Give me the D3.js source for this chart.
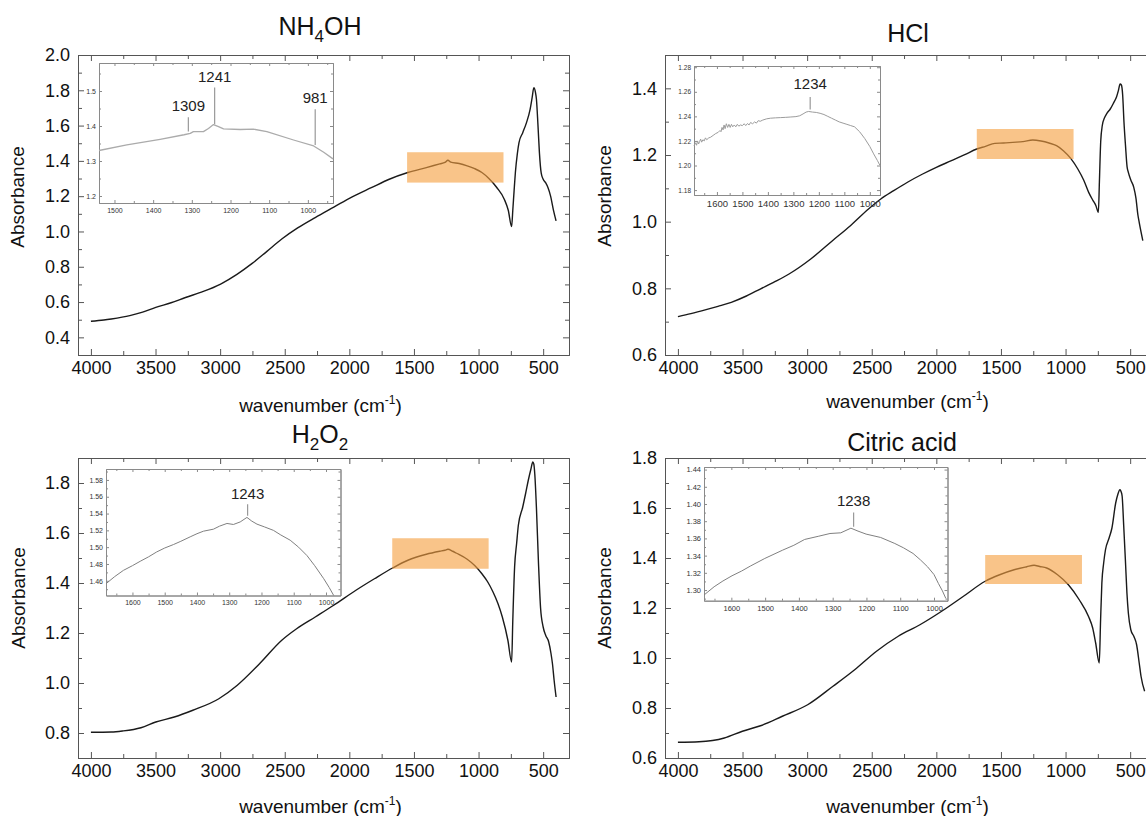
<!DOCTYPE html>
<html><head><meta charset="utf-8">
<script src="https://cdn.jsdelivr.net/npm/d3@7"></script>
<style>
body{margin:0;background:#fff;}
svg{display:block;font-family:"Liberation Sans",Arial,sans-serif;}
</style></head><body>
<svg id="c" width="1146" height="816"></svg>
<script>
// ---------------- DATA ----------------
const xTickLabels = [4000,3500,3000,2500,2000,1500,1000,500];
const xMinorTicks = [3750,3250,2750,2250,1750,1250,750];

// main spectra [wavenumber, absorbance]
const nh4ohMain = [[4000,0.491],[3900,0.498],[3842,0.504],[3699,0.523],[3600,0.543],[3498,0.570],[3380,0.596],[3268,0.626],[3130,0.660],[2996,0.702],[2870,0.757],[2752,0.819],[2640,0.886],[2523,0.957],[2400,1.020],[2264,1.079],[2120,1.138],[1978,1.196],[1830,1.248],[1691,1.296],[1547,1.334],[1404,1.362],[1300,1.383],[1260,1.391],[1237,1.404],[1215,1.393],[1150,1.385],[1088,1.372],[1030,1.356],[974,1.334],[920,1.300],[859,1.249],[801,1.183],[770,1.12],[744,1.028],[735,1.12],[725,1.23],[715,1.334],[700,1.44],[687,1.504],[658,1.560],[629,1.617],[601,1.692],[585,1.76],[572,1.815],[560,1.79],[552,1.749],[540,1.60],[529,1.447],[515,1.33],[500,1.296],[480,1.275],[463,1.249],[443,1.202],[420,1.12],[400,1.060]];
const hclMain = [[4000,0.715],[3900,0.724],[3782,0.736],[3690,0.746],[3587,0.758],[3470,0.777],[3363,0.798],[3250,0.820],[3140,0.843],[2972,0.888],[2804,0.943],[2665,0.988],[2525,1.038],[2430,1.068],[2330,1.093],[2220,1.119],[2106,1.143],[2000,1.163],[1883,1.183],[1780,1.201],[1687,1.218],[1620,1.226],[1547,1.235],[1480,1.236],[1408,1.238],[1330,1.240],[1254,1.245],[1190,1.242],[1128,1.236],[1070,1.228],[1017,1.213],[960,1.190],[905,1.158],[860,1.125],[821,1.088],[790,1.065],[765,1.048],[746,1.028],[738,1.12],[728,1.24],[715,1.29],[700,1.31],[680,1.325],[654,1.338],[630,1.355],[605,1.375],[590,1.395],[578,1.413],[568,1.41],[558,1.38],[548,1.30],[536,1.228],[524,1.165],[514,1.148],[495,1.125],[472,1.103],[455,1.07],[440,1.02],[430,0.998],[402,0.943]];
const h2o2Main = [[4000,0.803],[3842,0.804],[3756,0.808],[3613,0.821],[3498,0.844],[3355,0.864],[3211,0.891],[3010,0.937],[2867,0.991],[2695,1.077],[2523,1.171],[2408,1.217],[2264,1.264],[2121,1.311],[1949,1.371],[1806,1.417],[1662,1.461],[1547,1.491],[1404,1.515],[1300,1.527],[1260,1.531],[1237,1.535],[1200,1.527],[1174,1.520],[1088,1.495],[1030,1.470],[974,1.437],[930,1.405],[888,1.364],[850,1.318],[816,1.264],[773,1.171],[744,1.084],[735,1.25],[721,1.464],[705,1.56],[692,1.631],[658,1.704],[635,1.76],[615,1.811],[595,1.855],[580,1.884],[572,1.875],[565,1.837],[552,1.70],[537,1.491],[520,1.30],[500,1.224],[480,1.19],[457,1.164],[440,1.12],[428,1.077],[415,1.01],[400,0.944]];
const citricMain = [[4000,0.663],[3837,0.665],[3641,0.680],[3501,0.707],[3361,0.729],[3192,0.767],[2996,0.813],[2800,0.887],[2632,0.953],[2463,1.027],[2295,1.087],[2127,1.133],[1959,1.187],[1790,1.247],[1622,1.307],[1510,1.333],[1398,1.353],[1300,1.365],[1244,1.371],[1200,1.366],[1146,1.360],[1062,1.333],[978,1.293],[894,1.233],[823,1.167],[790,1.12],[767,1.060],[739,0.980],[729,1.15],[719,1.300],[705,1.38],[691,1.433],[663,1.480],[641,1.520],[612,1.620],[595,1.655],[579,1.673],[570,1.665],[562,1.647],[550,1.53],[537,1.393],[525,1.26],[514,1.180],[495,1.113],[470,1.085],[450,1.053],[430,0.98],[416,0.927],[388,0.867]];

// y tick labels
const nh4ohYTicks = [0.4,0.6,0.8,1.0,1.2,1.4,1.6,1.8,2.0];
const hclYTicks = [0.6,0.8,1.0,1.2,1.4];
const h2o2YTicks = [0.8,1.0,1.2,1.4,1.6,1.8];
const citricYTicks = [0.6,0.8,1.0,1.2,1.4,1.6,1.8];

// highlighted bands [wn start, wn end, abs low, abs high]
const nh4ohBand = [1553, 807, 1.277, 1.449];
const hclBand = [1687, 938, 1.188, 1.278];
const h2o2Band = [1668, 922, 1.457, 1.579];
const citricBand = [1622, 873, 1.296, 1.412];

// inset spectra
const nh4ohInset = [[1540,1.330],[1468,1.346],[1382,1.362],[1320,1.375],[1304,1.379],[1296,1.384],[1270,1.384],[1257,1.393],[1244,1.404],[1231,1.398],[1218,1.392],[1175,1.390],[1141,1.391],[1106,1.384],[1037,1.360],[985,1.343],[959,1.325],[935,1.306]];
const hclInset = [[1690,1.2160],[1684,1.2185],[1680,1.2165],[1676,1.2200],[1672,1.2175],[1668,1.2195],[1664,1.2215],[1660,1.2190],[1655,1.2210],[1650,1.2200],[1645,1.2225],[1640,1.2210],[1632,1.2225],[1625,1.2230],[1615,1.2245],[1605,1.2260],[1595,1.2270],[1588,1.2285],[1584,1.2275],[1580,1.2310],[1576,1.2290],[1572,1.2330],[1568,1.2300],[1563,1.2340],[1558,1.2310],[1553,1.2335],[1548,1.2310],[1543,1.2335],[1538,1.2315],[1532,1.2330],[1526,1.2315],[1520,1.2335],[1514,1.2320],[1508,1.2330],[1500,1.2325],[1493,1.2340],[1487,1.2325],[1480,1.2342],[1474,1.2330],[1468,1.2350],[1460,1.2340],[1452,1.2355],[1445,1.2345],[1438,1.2365],[1430,1.2360],[1420,1.2370],[1405,1.2380],[1390,1.2385],[1370,1.2388],[1350,1.2390],[1330,1.2392],[1310,1.2395],[1290,1.2398],[1275,1.2405],[1262,1.2420],[1250,1.2435],[1240,1.2440],[1225,1.2435],[1210,1.2432],[1195,1.2425],[1180,1.2415],[1165,1.2400],[1150,1.2385],[1135,1.2370],[1120,1.2355],[1105,1.2345],[1090,1.2335],[1075,1.2325],[1060,1.2315],[1040,1.2275],[1020,1.2220],[1000,1.2155],[985,1.2095],[970,1.2040],[960,1.2000]];
const h2o2Inset = [[1682,1.4565],[1655,1.465],[1628,1.4724],[1600,1.478],[1576,1.4832],[1550,1.4885],[1525,1.4943],[1500,1.499],[1473,1.5031],[1450,1.507],[1421,1.5123],[1400,1.516],[1380,1.519],[1349,1.5214],[1330,1.525],[1307,1.5282],[1287,1.527],[1266,1.530],[1245,1.5354],[1230,1.531],[1214,1.5274],[1190,1.524],[1163,1.520],[1140,1.5145],[1111,1.5083],[1085,1.500],[1059,1.490],[1035,1.478],[1007,1.4625],[990,1.452],[976,1.4425]];
const citricInset = [[1681,1.2942],[1651,1.3038],[1625,1.3105],[1598,1.3166],[1570,1.322],[1544,1.3278],[1501,1.3367],[1448,1.3464],[1415,1.352],[1383,1.3588],[1341,1.3626],[1308,1.3657],[1276,1.3665],[1246,1.3719],[1225,1.3685],[1201,1.3650],[1158,1.3611],[1116,1.3541],[1090,1.349],[1062,1.3425],[1040,1.335],[1019,1.3270],[1000,1.318],[987,1.3077],[975,1.299],[965,1.2903]];

// inset tick labels
const nh4ohInsetX = [1500,1400,1300,1200,1100,1000];
const nh4ohInsetY = [1.2,1.3,1.4,1.5];
const hclInsetX = [1600,1500,1400,1300,1200,1100,1000];
const hclInsetY = [1.18,1.20,1.22,1.24,1.26,1.28];
const h2o2InsetX = [1600,1500,1400,1300,1200,1100,1000];
const h2o2InsetY = [1.46,1.48,1.50,1.52,1.54,1.56,1.58];
const citricInsetX = [1600,1500,1400,1300,1200,1100,1000];
const citricInsetY = [1.30,1.32,1.34,1.36,1.38,1.40,1.42,1.44];

// peak annotations: wavenumber, line bottom / top (absorbance)
const nh4ohPeaks = [1309,1241,981];
const nh4ohPeakLow = [1.384,1.405,1.346];
const nh4ohPeakHigh = [1.425,1.510,1.448];
const hclPeaks = [1234];
const hclPeakLow = [1.2455];
const hclPeakHigh = [1.2557];
const h2o2Peaks = [1243];
const h2o2PeakLow = [1.5373];
const h2o2PeakHigh = [1.551];
const citricPeaks = [1238];
const citricPeakLow = [1.3735];
const citricPeakHigh = [1.3902];

// ---------------- LAYOUT ----------------
const svg = d3.select('#c');
const FRAME = '#555';

const panels = [
  {title:[['NH',0],['4',1],['OH',0]], main:nh4ohMain, yDomain:[0.3,2.0], yTicks:nh4ohYTicks, band:nh4ohBand,
   box:{l:78,t:55,w:491,h:300}, titleX:320, titleY:35, ylabX:24, ylabY:197, xlabY:412,
   inset:{data:nh4ohInset, box:{l:99,t:63,w:234,h:140}, xd:[1540,935], yd:[1.18,1.58], xt:nh4ohInsetX, yt:nh4ohInsetY, xMinorStep:50, yMinorStep:0.05, yfmt:'.1f', xfs:7, yfs:7, color:'#ababab', width:1.3, xlabOff:10, annGap:6,
     peaks:nh4ohPeaks, lo:nh4ohPeakLow, hi:nh4ohPeakHigh}},
  {title:[['HCl',0]], main:hclMain, yDomain:[0.6,1.5], yTicks:hclYTicks, band:hclBand,
   box:{l:665,t:55,w:491,h:300}, titleX:908, titleY:42, ylabX:611, ylabY:196, xlabY:408,
   inset:{data:hclInset, box:{l:694,t:66,w:186,h:129}, xd:[1690,960], yd:[1.176,1.281], xt:hclInsetX, yt:hclInsetY, xMinorStep:50, yMinorStep:0.01, yfmt:'.2f', xfs:9.5, yfs:6.5, color:'#9c9c9c', width:1, xlabOff:12, annGap:8,
     peaks:hclPeaks, lo:hclPeakLow, hi:hclPeakHigh}},
  {title:[['H',0],['2',1],['O',0],['2',1]], main:h2o2Main, yDomain:[0.7,1.9], yTicks:h2o2YTicks, band:h2o2Band,
   box:{l:78,t:458,w:491,h:300}, titleX:320, titleY:443, ylabX:25, ylabY:598, xlabY:813,
   inset:{data:h2o2Inset, box:{l:106,t:469,w:234.5,h:126.5}, xd:[1682,955], yd:[1.4425,1.593], xt:h2o2InsetX, yt:h2o2InsetY, xMinorStep:50, yMinorStep:0.01, yfmt:'.2f', xfs:7, yfs:7, color:'#808080', width:1, xlabOff:9, annGap:5,
     peaks:h2o2Peaks, lo:h2o2PeakLow, hi:h2o2PeakHigh}},
  {title:[['Citric acid',0]], main:citricMain, yDomain:[0.6,1.8], yTicks:citricYTicks, band:citricBand,
   box:{l:665,t:458,w:491,h:300}, titleX:902, titleY:451, ylabX:611, ylabY:598, xlabY:813,
   inset:{data:citricInset, box:{l:704,t:467,w:243.5,h:133.7}, xd:[1681,960], yd:[1.2876,1.443], xt:citricInsetX, yt:citricInsetY, xMinorStep:50, yMinorStep:0.01, yfmt:'.2f', xfs:7.5, yfs:7.5, color:'#808080', width:1, xlabOff:10, annGap:6,
     peaks:citricPeaks, lo:citricPeakLow, hi:citricPeakHigh}}
];

function styleAxis(sel, color, fs, fcolor){
  sel.select('.domain').attr('stroke', color).attr('stroke-width',1);
  sel.selectAll('.tick line').attr('stroke', color).attr('stroke-width',1);
  sel.attr('font-family', null).attr('font-size', fs);
  sel.selectAll('.tick text').attr('fill', fcolor);
}

function minorRange(domain, step, majors){
  const lo = Math.min(domain[0],domain[1]), hi = Math.max(domain[0],domain[1]);
  const out = [];
  for (let v = Math.ceil(lo/step - 1e-9)*step; v <= hi + 1e-9; v += step) {
    const vv = +v.toFixed(4);
    if (!majors.some(m => Math.abs(m - vv) < step/10)) out.push(vv);
  }
  return out;
}

function frameWithTicks(g, x, y, box, opt){
  const bottom = box.t + box.h, right = box.l + box.w;
  const bx = g.append('g').attr('transform',`translate(0,${bottom})`)
    .call(d3.axisBottom(x).tickValues(opt.xt).tickSize(-opt.major).tickSizeOuter(0).tickPadding(opt.xpad).tickFormat(opt.xfmt));
  styleAxis(bx, opt.color, opt.xfs, opt.textColor);
  g.append('g').attr('transform',`translate(0,${bottom})`)
    .call(d3.axisBottom(x).tickValues(opt.xm).tickSize(-opt.minor).tickSizeOuter(0).tickFormat(''))
    .call(s=>styleAxis(s,opt.color,opt.xfs,opt.textColor));
  g.append('g').attr('transform',`translate(0,${box.t})`)
    .call(d3.axisTop(x).tickValues(opt.xt).tickSize(-opt.major).tickSizeOuter(0).tickFormat(''))
    .call(s=>styleAxis(s,opt.color,opt.xfs,opt.textColor));
  g.append('g').attr('transform',`translate(0,${box.t})`)
    .call(d3.axisTop(x).tickValues(opt.xm).tickSize(-opt.minor).tickSizeOuter(0).tickFormat(''))
    .call(s=>styleAxis(s,opt.color,opt.xfs,opt.textColor));
  const ly = g.append('g').attr('transform',`translate(${box.l},0)`)
    .call(d3.axisLeft(y).tickValues(opt.yt).tickSize(-opt.major).tickSizeOuter(0).tickPadding(opt.ypad).tickFormat(d3.format(opt.yfmt)));
  styleAxis(ly, opt.color, opt.yfs, opt.textColor);
  g.append('g').attr('transform',`translate(${box.l},0)`)
    .call(d3.axisLeft(y).tickValues(opt.ym).tickSize(-opt.minor).tickSizeOuter(0).tickFormat(''))
    .call(s=>styleAxis(s,opt.color,opt.yfs,opt.textColor));
  g.append('g').attr('transform',`translate(${right},0)`)
    .call(d3.axisRight(y).tickValues(opt.yt).tickSize(-opt.major).tickSizeOuter(0).tickFormat(''))
    .call(s=>styleAxis(s,opt.color,opt.yfs,opt.textColor));
  g.append('g').attr('transform',`translate(${right},0)`)
    .call(d3.axisRight(y).tickValues(opt.ym).tickSize(-opt.minor).tickSizeOuter(0).tickFormat(''))
    .call(s=>styleAxis(s,opt.color,opt.yfs,opt.textColor));
}

panels.forEach(p => {
  const g = svg.append('g');
  const b = p.box;
  const x = d3.scaleLinear().domain([4100,300]).range([b.l, b.l + b.w]);
  const y = d3.scaleLinear().domain(p.yDomain).range([b.t + b.h, b.t]);

  // title
  const t = g.append('text').attr('x', p.titleX).attr('y', p.titleY).attr('text-anchor','middle')
    .attr('font-size', 25).attr('fill','#111');
  let shifted = false;
  p.title.forEach(([s, sub]) => {
    const ts = t.append('tspan').text(s);
    if (sub && !shifted) { ts.attr('dy', 7).attr('font-size', 17); shifted = true; }
    else if (!sub && shifted) { ts.attr('dy', -7); shifted = false; }
  });

  frameWithTicks(g, x, y, b, {
    xt: xTickLabels, xm: xMinorTicks, yt: p.yTicks,
    ym: minorRange(p.yDomain, 0.1, p.yTicks),
    major: 6, minor: 4, xpad: 6, ypad: 8, xfmt: d3.format('d'), yfmt: '.1f',
    xfs: 18, yfs: 18, color: FRAME, textColor: '#111'
  });

  // main curve
  const line = d3.line().x(d => x(d[0])).y(d => y(d[1])).curve(d3.curveMonotoneX);
  g.append('path').datum(p.main).attr('d', line).attr('fill','none')
    .attr('stroke','#1a1a1a').attr('stroke-width',1.4).attr('stroke-linejoin','round');

  // highlight band
  const bd = p.band;
  g.append('rect').attr('x', x(bd[0])).attr('y', y(bd[3]))
    .attr('width', x(bd[1]) - x(bd[0])).attr('height', y(bd[2]) - y(bd[3]))
    .attr('fill', '#f5a040').attr('fill-opacity', 0.62);

  // axis titles
  const xl = g.append('text').attr('x', b.l + b.w/2 - 3).attr('y', p.xlabY)
    .attr('text-anchor','middle').attr('font-size',19).attr('fill','#111');
  xl.append('tspan').text('wavenumber (cm');
  xl.append('tspan').text('-1').attr('font-size',12).attr('dy',-8);
  xl.append('tspan').text(')').attr('dy',8);
  g.append('text').attr('transform',`translate(${p.ylabX},${p.ylabY}) rotate(-90)`)
    .attr('text-anchor','middle').attr('font-size',19).attr('fill','#111').text('Absorbance');

  // inset
  const ins = p.inset, ib = ins.box;
  const ig = g.append('g');
  const ix = d3.scaleLinear().domain(ins.xd).range([ib.l, ib.l + ib.w]);
  const iy = d3.scaleLinear().domain(ins.yd).range([ib.t + ib.h, ib.t]);
  ig.append('rect').attr('x', ib.l).attr('y', ib.t).attr('width', ib.w).attr('height', ib.h).attr('fill','#fff');
  frameWithTicks(ig, ix, iy, ib, {
    xt: ins.xt, xm: minorRange(ins.xd, ins.xMinorStep, ins.xt), yt: ins.yt,
    ym: minorRange(ins.yd, ins.yMinorStep, ins.yt),
    major: 3, minor: 2, xpad: ins.xlabOff - ins.xfs*0.7, ypad: 3, xfmt: d3.format('d'), yfmt: ins.yfmt,
    xfs: ins.xfs, yfs: ins.yfs, color: '#8a8a8a', textColor: '#333'
  });
  ig.append('path').datum(ins.data)
    .attr('d', d3.line().x(d => ix(d[0])).y(d => iy(d[1])))
    .attr('fill','none').attr('stroke', ins.color).attr('stroke-width', ins.width).attr('stroke-linejoin','round');
  ins.peaks.forEach((pk, i) => {
    ig.append('line').attr('x1', ix(pk)).attr('x2', ix(pk))
      .attr('y1', iy(ins.lo[i])).attr('y2', iy(ins.hi[i]))
      .attr('stroke', '#999').attr('stroke-width', 1.2);
    ig.append('text').attr('x', ix(pk)).attr('y', iy(ins.hi[i]) - ins.annGap)
      .attr('text-anchor','middle').attr('font-size',15).attr('fill','#222').text(pk);
  });
});
</script>
</body></html>
